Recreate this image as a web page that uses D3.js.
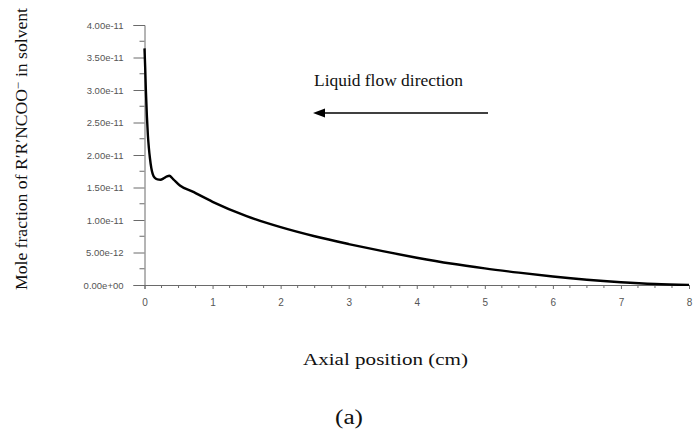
<!DOCTYPE html>
<html><head><meta charset="utf-8">
<script src="https://cdn.jsdelivr.net/npm/d3@7"></script>
<style>body{margin:0;background:#fff}svg{display:block}</style>
</head><body>
<svg id="c" width="693" height="432"></svg>
<script>
// Data: axial position (cm) and mole fraction
const xPos = [0, 0.01, 0.02, 0.035, 0.05, 0.065, 0.08, 0.1, 0.12, 0.15, 0.19, 0.235, 0.28, 0.33, 0.364, 0.42, 0.52, 0.7, 1.0, 1.5, 2.0, 2.5, 3.0, 3.5, 4.0, 4.5, 5.0, 5.5, 6.0, 6.5, 7.0, 7.5, 8.0];
const moleFrac = [3.64e-11, 3.35e-11, 3.0e-11, 2.6e-11, 2.3e-11, 2.1e-11, 1.95e-11, 1.8e-11, 1.71e-11, 1.65e-11, 1.625e-11, 1.62e-11, 1.64e-11, 1.67e-11, 1.68e-11, 1.63e-11, 1.53e-11, 1.44e-11, 1.28e-11, 1.06e-11, 0.89e-11, 0.75e-11, 0.63e-11, 0.52e-11, 0.42e-11, 0.33e-11, 0.255e-11, 0.19e-11, 0.13e-11, 0.08e-11, 0.042e-11, 0.015e-11, 0.002e-11];
const xTicks = [0, 1, 2, 3, 4, 5, 6, 7, 8];
const yTicks = [0, 5e-12, 1e-11, 1.5e-11, 2e-11, 2.5e-11, 3e-11, 3.5e-11, 4e-11];
const yTickLabels = ["0.00e+00", "5.00e-12", "1.00e-11", "1.50e-11", "2.00e-11", "2.50e-11", "3.00e-11", "3.50e-11", "4.00e-11"];
const xLabel = "Axial position (cm)";
const yLabelMain = "Mole fraction of R\u2032R\u2032NCOO";
const yLabelSup = "\u2212";
const yLabelEnd = " in solvent";
const annotation = "Liquid flow direction";
const caption = "(a)";

const svg = d3.select("#c");
const x = d3.scaleLinear().domain([0, 8]).range([144.5, 689]);
const y = d3.scaleLinear().domain([0, 4e-11]).range([285, 25]);
const axisColor = "#6a6a6a";
const sans = "Arial, 'Liberation Sans', sans-serif";
const serif = "'Liberation Serif', 'Times New Roman', serif";

// Y axis
const yAxis = d3.axisLeft(y).tickValues(yTicks).tickSize(11)
  .tickFormat((d, i) => yTickLabels[i]);
const gy = svg.append("g").attr("transform", `translate(${x(0)},0)`).call(yAxis);
gy.select(".domain").attr("stroke", axisColor);
gy.selectAll(".tick line").attr("stroke", axisColor);
gy.selectAll(".tick text").attr("font-family", sans)
  .attr("font-size", 9.5).attr("fill", "#555").attr("x", -21);
const yMinor = d3.range(0, 8).map(i => 2.5e-12 + i * 5e-12);
svg.append("g").selectAll("line").data(yMinor).join("line")
  .attr("x1", x(0) - 5).attr("x2", x(0)).attr("y1", d => y(d)).attr("y2", d => y(d))
  .attr("stroke", axisColor);

// X axis
const xAxis = d3.axisBottom(x).tickValues(xTicks).tickSize(4).tickPadding(10).tickFormat(d3.format("d"));
const gx = svg.append("g").attr("transform", `translate(0,${y(0)})`).call(xAxis);
gx.select(".domain").attr("stroke", axisColor);
gx.selectAll(".tick line").attr("stroke", axisColor);
gx.selectAll(".tick text").attr("font-family", sans)
  .attr("font-size", 10).attr("fill", "#555");
const xMinor = d3.range(0, 32).map(i => i * 0.25).filter(d => d % 1 !== 0);
svg.append("g").selectAll("line").data(xMinor).join("line")
  .attr("x1", d => x(d)).attr("x2", d => x(d)).attr("y1", y(0)).attr("y2", y(0) + 3)
  .attr("stroke", axisColor);

// Curve
const pts = xPos.map((d, i) => [d, moleFrac[i]]);
svg.append("path").datum(pts)
  .attr("fill", "none").attr("stroke", "#000").attr("stroke-width", 2.4)
  .attr("stroke-linejoin", "round")
  .attr("d", d3.line().x(d => x(d[0])).y(d => y(d[1])).curve(d3.curveMonotoneX));

// Y label
const yl = svg.append("text")
  .attr("transform", "translate(27,149) rotate(-90)")
  .attr("text-anchor", "middle")
  .attr("font-family", serif)
  .attr("font-size", 16).attr("fill", "#111")
  .attr("textLength", 282).attr("lengthAdjust", "spacingAndGlyphs");
yl.append("tspan").text(yLabelMain);
yl.append("tspan").attr("dy", -5).attr("font-size", 12).text(yLabelSup);
yl.append("tspan").attr("dy", 5).text(yLabelEnd);

// Annotation
svg.append("text").attr("x", 314).attr("y", 86).attr("font-family", serif)
  .attr("font-size", 16).attr("fill", "#111")
  .attr("textLength", 149).attr("lengthAdjust", "spacingAndGlyphs").text(annotation);
svg.append("line").attr("x1", 488).attr("x2", 322).attr("y1", 113).attr("y2", 113)
  .attr("stroke", "#000").attr("stroke-width", 1.5);
svg.append("path").attr("d", "M313,113 L325,108.5 L325,117.5 Z").attr("fill", "#000");

// X label and caption
svg.append("text").attr("x", 303).attr("y", 365)
  .attr("font-family", serif).attr("font-size", 17).attr("fill", "#111")
  .attr("textLength", 165).attr("lengthAdjust", "spacingAndGlyphs").text(xLabel);
svg.append("text").attr("x", 335).attr("y", 424)
  .attr("font-family", serif).attr("font-size", 20).attr("fill", "#111")
  .attr("textLength", 28).attr("lengthAdjust", "spacingAndGlyphs").text(caption);
</script>
</body></html>
